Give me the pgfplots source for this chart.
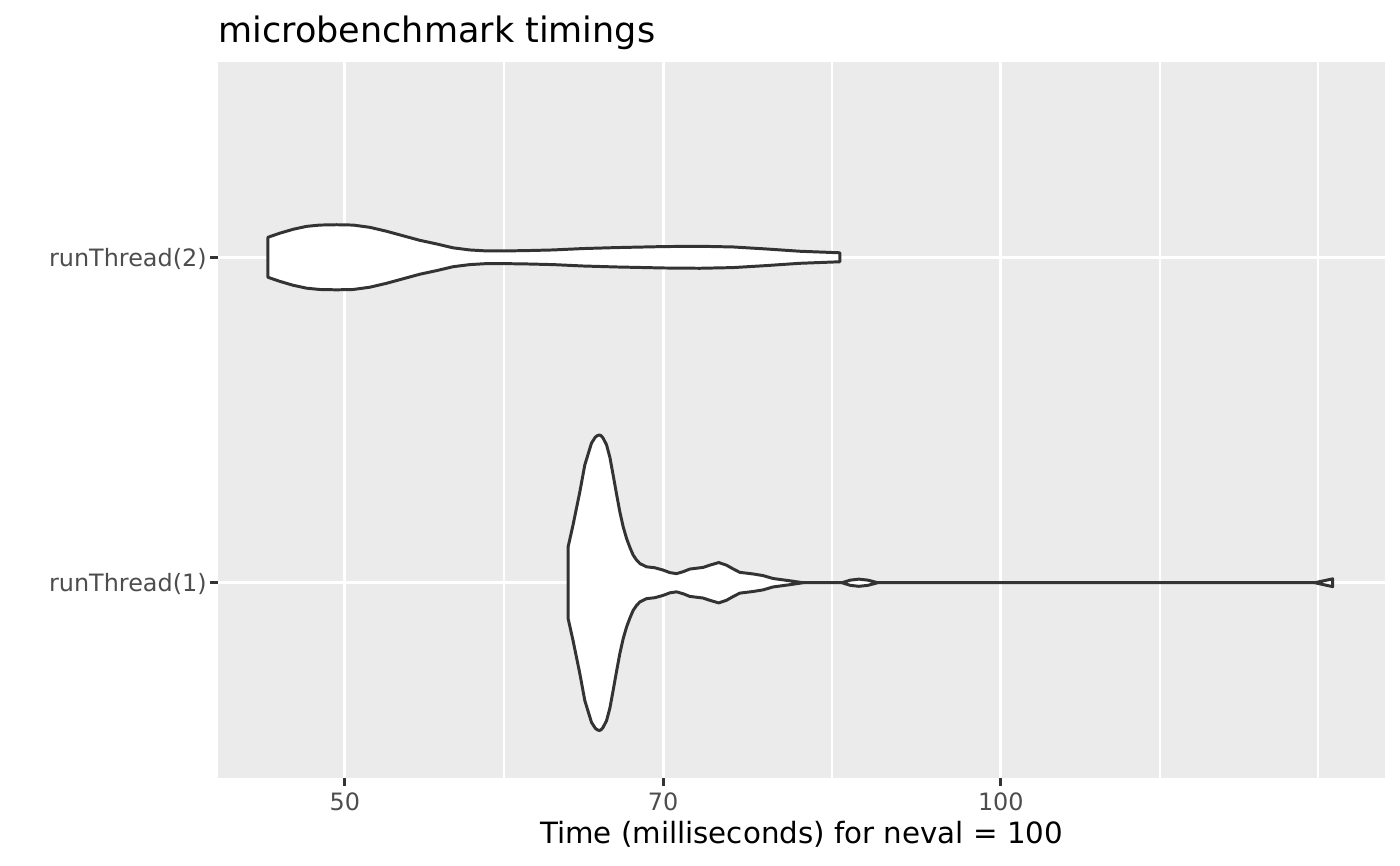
\documentclass[border=0pt]{standalone}
\usepackage{pgfplots}
\pgfplotsset{compat=1.18}
\usepackage{pgfplotstable}
\usepackage{fontspec}
\setmainfont{DejaVu Sans}
\definecolor{panelgray}{HTML}{EBEBEB}
\definecolor{grey20}{HTML}{333333}
\definecolor{grey30}{HTML}{4D4D4D}

% violin outlines: t = time (ms), d = offset from category centre
\pgfplotstableread{
t d
63.31 -0.111
63.31 0.111
63.64 0.178
64.10 0.280
64.43 0.362
64.89 0.429
65.15 0.447
65.30 0.452
65.42 0.454
65.55 0.452
65.68 0.445
65.93 0.424
66.17 0.385
66.39 0.331
66.62 0.275
66.86 0.218
67.10 0.172
67.34 0.136
67.58 0.108
67.81 0.085
68.05 0.070
68.29 0.059
68.77 0.049
69.38 0.046
69.99 0.039
70.50 0.031
70.99 0.028
71.50 0.034
71.99 0.042
73.01 0.047
73.53 0.054
74.23 0.062
74.84 0.054
75.35 0.043
75.90 0.032
76.97 0.027
77.79 0.022
78.62 0.013
80.02 0.006
81.15 0.000
84.54 0.000
85.30 0.008
86.07 0.011
86.90 0.008
87.81 0.000
139.35 0.000
142.02 0.012
142.02 -0.012
139.35 0.000
87.81 0.000
86.90 -0.008
86.07 -0.011
85.30 -0.008
84.54 0.000
81.15 0.000
80.02 -0.006
78.62 -0.013
77.79 -0.022
76.97 -0.027
75.90 -0.032
75.35 -0.043
74.84 -0.054
74.23 -0.062
73.53 -0.054
73.01 -0.047
71.99 -0.042
71.50 -0.034
70.99 -0.028
70.50 -0.031
69.99 -0.039
69.38 -0.046
68.77 -0.049
68.29 -0.059
68.05 -0.070
67.81 -0.085
67.58 -0.108
67.34 -0.136
67.10 -0.172
66.86 -0.218
66.62 -0.275
66.39 -0.331
66.17 -0.385
65.93 -0.424
65.68 -0.445
65.55 -0.452
65.42 -0.454
65.30 -0.452
65.15 -0.447
64.89 -0.429
64.43 -0.362
64.10 -0.280
63.64 -0.178
}\vone

\pgfplotstableread{
t d
46.10 -0.0615
46.10 0.0615
46.68 0.0740
47.34 0.0860
48.02 0.0950
48.70 0.0990
49.57 0.1000
50.44 0.0990
51.34 0.0920
52.25 0.0800
53.18 0.0660
54.13 0.0520
55.09 0.0410
56.06 0.0290
57.06 0.0225
58.07 0.0195
59.20 0.0195
60.58 0.0205
62.31 0.0225
64.32 0.0268
66.63 0.0298
70.06 0.0329
72.76 0.0338
75.37 0.0317
78.07 0.0255
80.87 0.0185
84.36 0.0138
84.36 -0.0138
80.87 -0.0185
78.07 -0.0255
75.37 -0.0317
72.76 -0.0338
70.06 -0.0329
66.63 -0.0298
64.32 -0.0268
62.31 -0.0225
60.58 -0.0205
59.20 -0.0195
58.07 -0.0195
57.06 -0.0225
56.06 -0.0290
55.09 -0.0410
54.13 -0.0520
53.18 -0.0660
52.25 -0.0800
51.34 -0.0920
50.44 -0.0990
49.57 -0.1000
48.70 -0.0990
48.02 -0.0950
47.34 -0.0860
46.68 -0.0740
}\vtwo

\begin{document}
\begin{tikzpicture}
\path[use as bounding box] (0,0) rectangle (504pt,311.4pt);
\begin{axis}[
  at={(78.48pt,31.32pt)}, anchor=south west,
  width=420.12pt, height=257.76pt, scale only axis,
  xmode=log, log basis x=10,
  xmin=43.73, xmax=150.1, ymin=0.4, ymax=2.6,
  xtick={50,70,100}, xticklabels={50,70,100},
  minor xtick={59.16,83.67,118.3,139.8},
  ytick={1,2}, yticklabels={runThread(1),runThread(2)},
  axis background/.style={fill=panelgray},
  axis line style={draw=none},
  grid=both,
  major grid style={white, line width=1.07pt},
  minor grid style={white, line width=0.53pt},
  tick align=outside,
  major tick length=2.75pt, minor tick length=0pt,
  tick style={grey20, line width=1.07pt},
  xtick pos=bottom, ytick pos=left,
  ticklabel style={font=\fontsize{8.6}{10}\selectfont, text=grey30},
  xticklabel style={anchor=base, inner sep=0pt, yshift=-9pt},
  yticklabel style={anchor=east, inner sep=0pt, xshift=-1.2pt, yshift=-0.6pt},
  title={microbenchmark timings},
  title style={at={(rel axis cs:0,1)}, anchor=base west, yshift=1.2pt, inner sep=0pt,
    font=\fontsize{12.6}{15}\selectfont},
  xlabel={Time (milliseconds) for neval = 100},
  xlabel style={at={(rel axis cs:0.5,0)}, anchor=base, yshift=-23.5pt, inner sep=0pt,
    font=\fontsize{10.55}{13}\selectfont},
]
\addplot[fill=white, draw=grey20, line width=1.07pt, line join=round]
  table[x=t, y expr=2+\thisrow{d}] {\vtwo} -- cycle;
\addplot[fill=white, draw=grey20, line width=1.07pt, line join=round]
  table[x=t, y expr=1+\thisrow{d}] {\vone} -- cycle;
\end{axis}
\end{tikzpicture}
\end{document}
